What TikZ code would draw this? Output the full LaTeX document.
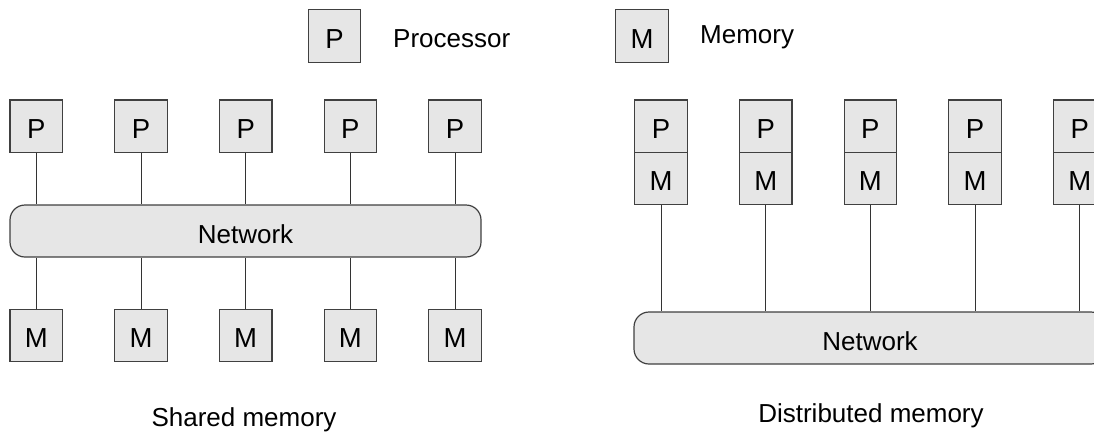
\documentclass[tikz,border=0pt]{standalone}
\usepackage{fontspec}
\setmainfont{Liberation Sans}
\definecolor{boxfill}{HTML}{E6E6E6}
\definecolor{boxline}{HTML}{404040}
\definecolor{linecol}{HTML}{333333}
\newcommand\diagfont{\fontsize{26}{30}\selectfont}
\newcommand\boxfont{\fontsize{27.5}{30}\selectfont}
\begin{document}
\begin{tikzpicture}[x=1pt,y=-1pt,
  box/.style={draw=boxline, fill=boxfill, line width=1.2pt, minimum width=52.5pt, minimum height=52.5pt, inner sep=0pt, text height=24.5pt, text depth=0pt, font=\boxfont},
  net/.style={draw=boxline, fill=boxfill, line width=1.2pt, rounded corners=15pt, minimum width=471pt, minimum height=52pt, inner sep=0pt, text height=24pt, text depth=0pt, font=\diagfont},
  link/.style={draw=linecol, line width=1pt},
  label/.style={font=\diagfont, inner sep=0pt}]
\clip (0,0) rectangle (1094,432);
% legend
\node[box] (lp) at (334.5,36) {P};
\node[label, anchor=base west] (lpt) at (393,47) {Processor};
\node[box] (lm) at (642,36) {M};
\node[label, anchor=base west] (lmt) at (700,43.3) {Memory};
% shared memory
\node[net] (snet) at (245.5,231) {Network};
\foreach \i/\x in {1/36.3,2/141,3/245.7,4/350.4,5/455.1} {
  \node[box] (sp\i) at (\x,126.3) {P};
  \node[box] (sm\i) at (\x,335.5) {M};
  \draw[link] (sp\i.south) -- (sp\i.south |- snet.north);
  \draw[link] (sm\i.north) -- (sm\i.north |- snet.south);
}
\node[label, anchor=base] (st) at (244,426.7) {Shared memory};
% distributed memory
\node[net, minimum width=472pt] (dnet) at (870,338) {Network};
\foreach \i/\x in {1/661,2/765.7,3/870.4,4/975.1,5/1079.8} {
  \node[box] (dp\i) at (\x,126.2) {P};
  \node[box] (dm\i) at (\x,178.6) {M};
  \draw[link] (dm\i.south) -- (dm\i.south |- dnet.north);
}
\node[label, anchor=base] (dt) at (871,422.7) {Distributed memory};
\end{tikzpicture}
\end{document}
